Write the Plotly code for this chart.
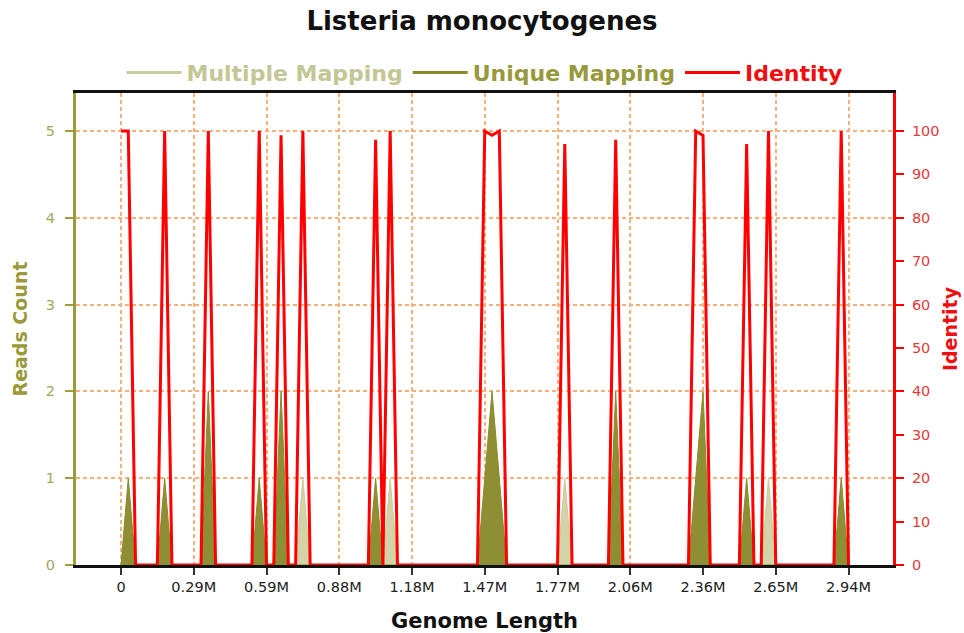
import plotly.graph_objects as go

# ---- data ----
genome_length = 2944000          # bp
n_bins = 100
tick_labels = ["0", "0.29M", "0.59M", "0.88M", "1.18M", "1.47M",
               "1.77M", "2.06M", "2.36M", "2.65M", "2.94M"]

identity_bins = [0, 1, 6, 12, 19, 22, 25, 35, 37, 50, 51, 52, 61, 68, 79, 80, 86, 89, 99]
identity_vals = [100, 100, 100, 100, 100, 99, 100, 98, 100, 100, 99, 100, 97, 98, 100, 99, 97, 100, 100]

unique_bins = [1, 6, 12, 19, 22, 35, 50, 51, 52, 68, 79, 80, 86, 99]
unique_vals = [1, 1, 2, 1, 2, 1, 1, 2, 1, 2, 1, 2, 1, 1]

multiple_bins = [25, 37, 61, 89]
multiple_vals = [1, 1, 1, 1]

# ---- build series ----
bin_size = genome_length / n_bins
x = [i * bin_size for i in range(n_bins + 1)]


def series(bins, vals):
    arr = [0] * (n_bins + 1)
    for b, v in zip(bins, vals):
        arr[b] = v
    return arr


identity = series(identity_bins, identity_vals)
unique = series(unique_bins, unique_vals)
multiple = series(multiple_bins, multiple_vals)

tick_vals = [i * genome_length / 10 for i in range(11)]

C_MULTI_FILL = "#d2d3a6"
C_MULTI_LINE = "#c9cb9c"
C_UNI_FILL = "#8e8e34"
C_UNI_LINE = "#8a8a2a"
C_RED = "#ff0000"
GRID = "#f5b07e"
FONT = "DejaVu Sans"

fig = go.Figure()

fig.add_trace(go.Scatter(x=x, y=multiple, mode="lines", fill="tozeroy",
                         line=dict(color=C_MULTI_LINE, width=1),
                         fillcolor=C_MULTI_FILL, showlegend=False, yaxis="y"))
fig.add_trace(go.Scatter(x=x, y=unique, mode="lines", fill="tozeroy",
                         line=dict(color=C_UNI_LINE, width=1),
                         fillcolor=C_UNI_FILL, showlegend=False, yaxis="y"))
fig.add_trace(go.Scatter(x=x, y=identity, mode="lines",
                         line=dict(color=C_RED, width=3),
                         showlegend=False, yaxis="y2"))

# legend entries (line style)
fig.add_trace(go.Scatter(x=[None], y=[None], mode="lines",
                         line=dict(color=C_MULTI_LINE, width=3),
                         name="<span style='color:#c3c796'><b>Multiple Mapping</b></span>"))
fig.add_trace(go.Scatter(x=[None], y=[None], mode="lines",
                         line=dict(color=C_UNI_LINE, width=3),
                         name="<span style='color:#98983c'><b>Unique Mapping</b></span>"))
fig.add_trace(go.Scatter(x=[None], y=[None], mode="lines",
                         line=dict(color=C_RED, width=3),
                         name="<span style='color:#ee1010'><b>Identity</b></span>"))

x_left = -0.182103 * 1e6
x_right = 3.12408 * 1e6

fig.update_layout(
    width=964, height=633,
    margin=dict(l=76, r=71, t=93, b=68, autoexpand=False),
    paper_bgcolor="white", plot_bgcolor="white",
    font=dict(family=FONT, size=14, color="#222222"),
    title=dict(text="<b>Listeria monocytogenes</b>", x=0.5, xanchor="center",
               y=1 - 21 / 633, yanchor="middle", yref="container",
               font=dict(size=26, color="#111111", family=FONT)),
    legend=dict(orientation="h", x=0.5, xanchor="center", y=1.043, yanchor="middle",
                font=dict(size=22, family=FONT), bgcolor="rgba(0,0,0,0)",
                itemwidth=55, traceorder="normal"),
    xaxis=dict(range=[x_left, x_right], tickvals=tick_vals, ticktext=tick_labels,
               automargin=False,
               showgrid=True, gridcolor=GRID, griddash="4px,3px", gridwidth=1.5,
               showline=True, linecolor="#111111", linewidth=3, mirror=True,
               ticks="outside", ticklen=7, tickcolor="#333333", tickwidth=1.5,
               tickfont=dict(size=14.5, color="#222222"),
               zeroline=False,
               title=dict(text="<b>Genome Length</b>", standoff=21,
                          font=dict(size=21, color="#111111"))),
    yaxis=dict(range=[0, 5.438], tickvals=[0, 1, 2, 3, 4, 5],
               automargin=False,
               showgrid=True, gridcolor=GRID, griddash="4px,3px", gridwidth=1.5,
               showline=True, linecolor="#9c9c3a", linewidth=3,
               ticks="outside", ticklen=8, tickcolor="#9c9c3a", tickwidth=1.5,
               tickfont=dict(size=14.5, color="#a5a55e"), ticklabelstandoff=7,
               zeroline=False,
               title=dict(text="<b>Reads Count</b>", standoff=14,
                          font=dict(size=19, color="#9a9a3a"))),
    yaxis2=dict(range=[0, 108.76], tickvals=list(range(0, 101, 10)),
                automargin=False,
                overlaying="y", side="right", showgrid=False,
                showline=True, linecolor=C_RED, linewidth=3,
                ticks="outside", ticklen=8, tickcolor=C_RED, tickwidth=1.5,
                tickfont=dict(size=14.5, color="#e03a3a"), ticklabelstandoff=5,
                zeroline=False,
                title=dict(text="<b>Identity</b>", standoff=6,
                           font=dict(size=19, color="#ee1010"))),
)

fig.write_html("out.html", config={"displayModeBar": False},
               post_script="document.body.style.margin='0';document.body.style.padding='0';")
